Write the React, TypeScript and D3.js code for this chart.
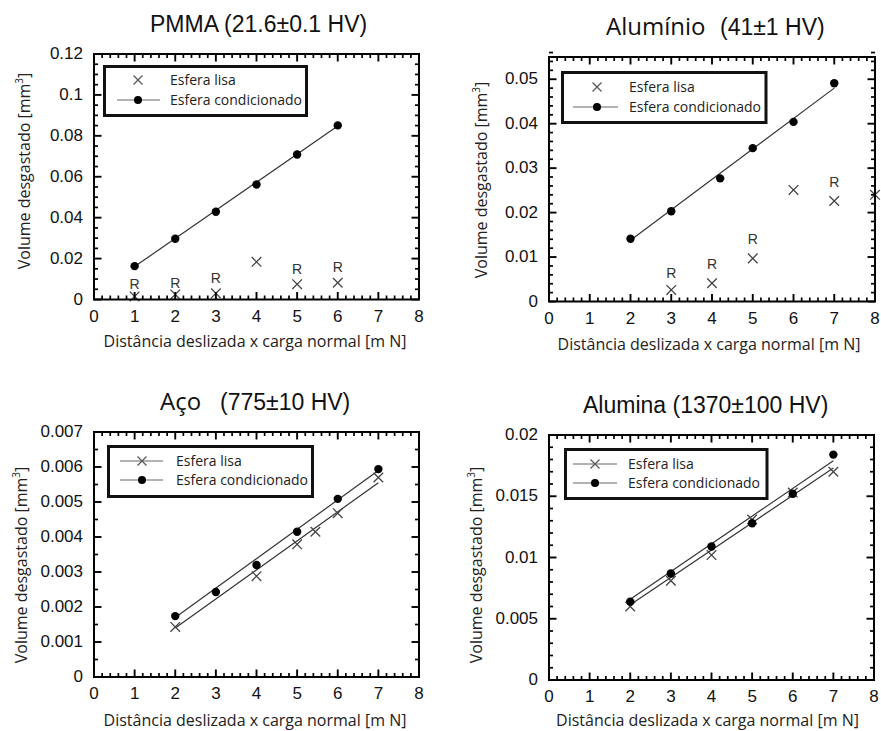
import React, { useEffect, useRef } from 'react';
import * as d3 from 'd3';

// ---------- shared ----------
const xTickValues = [0, 1, 2, 3, 4, 5, 6, 7, 8];
const xTickLabels = ['0', '1', '2', '3', '4', '5', '6', '7', '8'];
const xAxisTitle = 'Distância deslizada x carga normal [m N]';
const yAxisTitle = 'Volume desgastado [mm';
const legendLisa = 'Esfera lisa';
const legendCond = 'Esfera condicionado';

// ---------- PMMA ----------
const pmmaYTicks = [0, 0.02, 0.04, 0.06, 0.08, 0.1, 0.12];
const pmmaYLabels = ['0', '0.02', '0.04', '0.06', '0.08', '0.1', '0.12'];
const pmmaCondX = [1, 2, 3, 4, 5, 6];
const pmmaCondY = [0.0163, 0.0297, 0.0429, 0.0562, 0.0709, 0.0851];
const pmmaLisaX = [1, 2, 3, 4, 5, 6];
const pmmaLisaY = [0.0015, 0.0025, 0.003, 0.0184, 0.0075, 0.0082];
const pmmaCondFitX = [1, 6];
const pmmaCondFitY = [0.0161, 0.0848];
const pmmaRX = [1, 2, 3, 5, 6];
const pmmaRY = [0.0078, 0.0082, 0.0103, 0.0151, 0.016];

// ---------- Alumínio ----------
const aluYTicks = [0, 0.01, 0.02, 0.03, 0.04, 0.05];
const aluYLabels = ['0', '0.01', '0.02', '0.03', '0.04', '0.05'];
const aluCondX = [2, 3, 4.2, 5, 6, 7];
const aluCondY = [0.0141, 0.0203, 0.0277, 0.0345, 0.0404, 0.0491];
const aluLisaX = [3, 4, 5, 6, 7, 8];
const aluLisaY = [0.0026, 0.0041, 0.0097, 0.0251, 0.0226, 0.024];
const aluCondFitX = [2, 7];
const aluCondFitY = [0.0138, 0.048];
const aluRX = [3, 4, 5, 7];
const aluRY = [0.0065, 0.0084, 0.014, 0.0268];

// ---------- Aço ----------
const acoYTicks = [0, 0.001, 0.002, 0.003, 0.004, 0.005, 0.006, 0.007];
const acoYLabels = ['0', '0.001', '0.002', '0.003', '0.004', '0.005', '0.006', '0.007'];
const acoCondX = [2, 3, 4, 5, 6, 7];
const acoCondY = [0.00174, 0.00243, 0.0032, 0.00415, 0.00509, 0.00594];
const acoLisaX = [2, 4, 5, 5.45, 6, 7];
const acoLisaY = [0.00143, 0.00288, 0.00379, 0.00415, 0.00468, 0.0057];
const acoCondFitX = [2, 7];
const acoCondFitY = [0.0017, 0.0059];
const acoLisaFitX = [2, 7];
const acoLisaFitY = [0.0014, 0.00555];

// ---------- Alumina ----------
const alnYTicks = [0, 0.005, 0.01, 0.015, 0.02];
const alnYLabels = ['0', '0.005', '0.01', '0.015', '0.02'];
const alnCondX = [2, 3, 4, 5, 6, 7];
const alnCondY = [0.0064, 0.0087, 0.0109, 0.0128, 0.0152, 0.0184];
const alnLisaX = [2, 3, 4, 5, 6, 7];
const alnLisaY = [0.006, 0.0081, 0.0102, 0.0131, 0.0153, 0.017];
const alnCondFitX = [2, 7];
const alnCondFitY = [0.0066, 0.0179];
const alnLisaFitX = [2, 7];
const alnLisaFitY = [0.00615, 0.0173];

const HELV = "'Liberation Sans', Arial, Helvetica, sans-serif";
const SANS = "'Open Sans', sans-serif";

type TitlePart = { text: string; font: string; x: number };

type PanelCfg = {
  left: number; right: number; top: number; bottom: number;
  yMax: number; yMinorStep: number;
  yTicks: number[]; yLabels: string[];
  condX: number[]; condY: number[];
  lisaX: number[]; lisaY: number[];
  condFitX: number[]; condFitY: number[];
  lisaFitX?: number[]; lisaFitY?: number[];
  rX?: number[]; rY?: number[];
  title: TitlePart[]; titleY: number;
  xTitleX: number; xTitleY: number;
  yTitleX: number; yTitleY: number;
  legend: { x0: number; x1: number; y0: number; y1: number; symX: number; lineX0: number; lineX1: number; textX: number; row1: number; row2: number; lisaLine: boolean };
};

const panels: PanelCfg[] = [
  {
    left: 94, right: 419, top: 54, bottom: 299.5, yMax: 0.12, yMinorStep: 0.005,
    yTicks: pmmaYTicks, yLabels: pmmaYLabels,
    condX: pmmaCondX, condY: pmmaCondY, lisaX: pmmaLisaX, lisaY: pmmaLisaY,
    condFitX: pmmaCondFitX, condFitY: pmmaCondFitY, rX: pmmaRX, rY: pmmaRY,
    title: [{ text: 'PMMA (21.6±0.1 HV)', font: HELV, x: 150 }], titleY: 31.5,
    xTitleX: 255, xTitleY: 346.5, yTitleX: 30, yTitleY: 171,
    legend: { x0: 104.5, x1: 306.5, y0: 66.5, y1: 115.5, symX: 138, lineX0: 117, lineX1: 160, textX: 170, row1: 80, row2: 100, lisaLine: false },
  },
  {
    left: 549, right: 875, top: 57, bottom: 301.5, yMax: 0.055, yMinorStep: 0.002,
    yTicks: aluYTicks, yLabels: aluYLabels,
    condX: aluCondX, condY: aluCondY, lisaX: aluLisaX, lisaY: aluLisaY,
    condFitX: aluCondFitX, condFitY: aluCondFitY, rX: aluRX, rY: aluRY,
    title: [{ text: 'Alumínio', font: SANS, x: 606 }, { text: '(41±1 HV)', font: HELV, x: 720 }], titleY: 35,
    xTitleX: 709, xTitleY: 350, yTitleX: 486.5, yTitleY: 180,
    legend: { x0: 562.5, x1: 766, y0: 72.5, y1: 122.5, symX: 597, lineX0: 573, lineX1: 618, textX: 629, row1: 87, row2: 107, lisaLine: false },
  },
  {
    left: 94, right: 419, top: 432, bottom: 677, yMax: 0.007, yMinorStep: 0.0005,
    yTicks: acoYTicks, yLabels: acoYLabels,
    condX: acoCondX, condY: acoCondY, lisaX: acoLisaX, lisaY: acoLisaY,
    condFitX: acoCondFitX, condFitY: acoCondFitY, lisaFitX: acoLisaFitX, lisaFitY: acoLisaFitY,
    title: [{ text: 'Aço', font: SANS, x: 160 }, { text: '(775±10 HV)', font: HELV, x: 220 }], titleY: 410,
    xTitleX: 255, xTitleY: 725.5, yTitleX: 26.5, yTitleY: 565,
    legend: { x0: 108.5, x1: 312.5, y0: 446.5, y1: 496.5, symX: 142, lineX0: 120, lineX1: 163, textX: 176, row1: 461, row2: 480, lisaLine: true },
  },
  {
    left: 549, right: 874, top: 435, bottom: 680, yMax: 0.02, yMinorStep: 0.001,
    yTicks: alnYTicks, yLabels: alnYLabels,
    condX: alnCondX, condY: alnCondY, lisaX: alnLisaX, lisaY: alnLisaY,
    condFitX: alnCondFitX, condFitY: alnCondFitY, lisaFitX: alnLisaFitX, lisaFitY: alnLisaFitY,
    title: [{ text: 'Alumina (1370±100 HV)', font: HELV, x: 583 }], titleY: 413,
    xTitleX: 707.5, xTitleY: 725.5, yTitleX: 481.5, yTitleY: 565,
    legend: { x0: 565.5, x1: 767, y0: 449.5, y1: 498.5, symX: 595, lineX0: 573, lineX1: 617, textX: 628, row1: 464, row2: 483, lisaLine: true },
  },
];

function crossPath(x: number, y: number, s: number) {
  return `M${x - s},${y - s}L${x + s},${y + s}M${x - s},${y + s}L${x + s},${y - s}`;
}

function drawPanel(svg: d3.Selection<SVGSVGElement, unknown, null, undefined>, c: PanelCfg) {
  const g = svg.append('g');
  const xs = d3.scaleLinear().domain([0, 8]).range([c.left, c.right]);
  const ys = d3.scaleLinear().domain([0, c.yMax]).range([c.bottom, c.top]);
  const xMinor = d3.range(1, 40).map((k) => k * 0.2).filter((v) => Math.abs(v - Math.round(v)) > 1e-6);
  const nMinorY = Math.round(c.yMax / c.yMinorStep);
  const yMinor = d3.range(1, nMinorY + 1).map((k) => k * c.yMinorStep).filter(
    (v) => !c.yTicks.some((t) => Math.abs(t - v) < c.yMinorStep * 0.01)
  );
  const lineGen = d3.line<[number, number]>().x((d) => xs(d[0])).y((d) => ys(d[1]));
  const MJ = 7.5, MN = 4;

  const t = g.append('text').attr('y', c.titleY).attr('fill', '#111');
  c.title.forEach((p) => {
    t.append('tspan').attr('x', p.x).attr('font-family', p.font).attr('font-size', p.font === SANS ? 24 : 23).text(p.text);
  });

  const condFit: [number, number][] = c.condFitX.map((x, i) => [x, c.condFitY[i]]);
  g.append('path').attr('d', lineGen(condFit)).attr('stroke', '#333').attr('stroke-width', 1.2).attr('fill', 'none');
  if (c.lisaFitX) {
    const lisaFit: [number, number][] = c.lisaFitX.map((x, i) => [x, c.lisaFitY![i]]);
    g.append('path').attr('d', lineGen(lisaFit)).attr('stroke', '#333').attr('stroke-width', 1.2).attr('fill', 'none');
  }
  g.append('path')
    .attr('d', c.lisaX.map((x, i) => crossPath(xs(x), ys(c.lisaY[i]), 4.8)).join(''))
    .attr('stroke', '#444').attr('stroke-width', 1.3).attr('fill', 'none');
  g.selectAll(null).data(c.condX).enter().append('circle')
    .attr('cx', (d) => xs(d)).attr('cy', (_d, i) => ys(c.condY[i])).attr('r', 4.2).attr('fill', '#000');
  if (c.rX) {
    g.selectAll(null).data(c.rX).enter().append('text')
      .attr('x', (d) => xs(d)).attr('y', (_d, i) => ys(c.rY![i])).attr('dy', '0.36em')
      .attr('text-anchor', 'middle').attr('font-family', HELV).attr('font-size', 14).attr('fill', '#333').text('R');
  }

  const tk = g.append('g').attr('stroke', '#000').attr('fill', 'none');
  xTickValues.forEach((v) => {
    const x = xs(v);
    tk.append('line').attr('x1', x).attr('x2', x).attr('y1', c.bottom).attr('y2', c.bottom - MJ).attr('stroke-width', 1.9);
    tk.append('line').attr('x1', x).attr('x2', x).attr('y1', c.top).attr('y2', c.top + MJ).attr('stroke-width', 1.9);
  });
  xMinor.forEach((v) => {
    const x = xs(v);
    tk.append('line').attr('x1', x).attr('x2', x).attr('y1', c.bottom).attr('y2', c.bottom - MN).attr('stroke-width', 1.7);
    tk.append('line').attr('x1', x).attr('x2', x).attr('y1', c.top).attr('y2', c.top + MN).attr('stroke-width', 1.7);
  });
  c.yTicks.forEach((v) => {
    const y = ys(v);
    tk.append('line').attr('x1', c.left).attr('x2', c.left + MJ).attr('y1', y).attr('y2', y).attr('stroke-width', 1.9);
    tk.append('line').attr('x1', c.right).attr('x2', c.right - MJ).attr('y1', y).attr('y2', y).attr('stroke-width', 1.9);
  });
  yMinor.forEach((v) => {
    const y = ys(v);
    tk.append('line').attr('x1', c.left).attr('x2', c.left + MN).attr('y1', y).attr('y2', y).attr('stroke-width', 1.7);
    tk.append('line').attr('x1', c.right).attr('x2', c.right - MN).attr('y1', y).attr('y2', y).attr('stroke-width', 1.7);
  });
  g.append('rect').attr('x', c.left).attr('y', c.top).attr('width', c.right - c.left).attr('height', c.bottom - c.top)
    .attr('fill', 'none').attr('stroke', '#000').attr('stroke-width', 2);

  xTickValues.forEach((v, i) => {
    g.append('text').attr('x', xs(v)).attr('y', c.bottom + 22).attr('text-anchor', 'middle')
      .attr('font-family', HELV).attr('font-size', 17).attr('fill', '#111').text(xTickLabels[i]);
  });
  c.yTicks.forEach((v, i) => {
    g.append('text').attr('x', c.left - 11).attr('y', ys(v)).attr('dy', '0.3em').attr('text-anchor', 'end')
      .attr('font-family', HELV).attr('font-size', 17).attr('fill', '#111').text(c.yLabels[i]);
  });

  g.append('text').attr('x', c.xTitleX).attr('y', c.xTitleY).attr('text-anchor', 'middle')
    .attr('font-family', SANS).attr('font-size', 16).attr('fill', '#222').text(xAxisTitle);
  const yt = g.append('text').attr('transform', `translate(${c.yTitleX},${c.yTitleY}) rotate(-90)`)
    .attr('text-anchor', 'middle').attr('font-family', SANS).attr('font-size', 16).attr('fill', '#222');
  yt.append('tspan').text(yAxisTitle);
  yt.append('tspan').attr('font-size', 10).attr('dy', -7).text('3');
  yt.append('tspan').attr('dy', 7).text(']');

  const lg = c.legend;
  g.append('rect').attr('x', lg.x0).attr('y', lg.y0).attr('width', lg.x1 - lg.x0).attr('height', lg.y1 - lg.y0)
    .attr('fill', '#fff').attr('stroke', '#111').attr('stroke-width', 3);
  if (lg.lisaLine) {
    g.append('line').attr('x1', lg.lineX0).attr('x2', lg.lineX1).attr('y1', lg.row1).attr('y2', lg.row1).attr('stroke', '#666').attr('stroke-width', 1);
  }
  g.append('path').attr('d', crossPath(lg.symX, lg.row1, 4.5)).attr('stroke', '#555').attr('stroke-width', 1.2).attr('fill', 'none');
  g.append('line').attr('x1', lg.lineX0).attr('x2', lg.lineX1).attr('y1', lg.row2).attr('y2', lg.row2).attr('stroke', '#666').attr('stroke-width', 1);
  g.append('circle').attr('cx', lg.symX).attr('cy', lg.row2).attr('r', 4).attr('fill', '#000');
  g.append('text').attr('x', lg.textX).attr('y', lg.row1).attr('dy', '0.35em').attr('font-family', SANS).attr('font-size', 14).attr('fill', '#222').text(legendLisa);
  g.append('text').attr('x', lg.textX).attr('y', lg.row2).attr('dy', '0.35em').attr('font-family', SANS).attr('font-size', 14).attr('fill', '#222').text(legendCond);
}

export default function App() {
  const ref = useRef<SVGSVGElement>(null);
  useEffect(() => {
    if (!ref.current) return;
    const svg = d3.select(ref.current);
    svg.selectAll('*').remove();
    svg.append('rect').attr('width', 881).attr('height', 731).attr('fill', '#fff');
    panels.forEach((c) => drawPanel(svg, c));
  }, []);
  return (
    <div style={{ position: 'absolute', left: 0, top: 0 }}>
      <svg ref={ref} width={881} height={731} viewBox="0 0 881 731" style={{ display: 'block', background: '#fff' }} />
    </div>
  );
}
